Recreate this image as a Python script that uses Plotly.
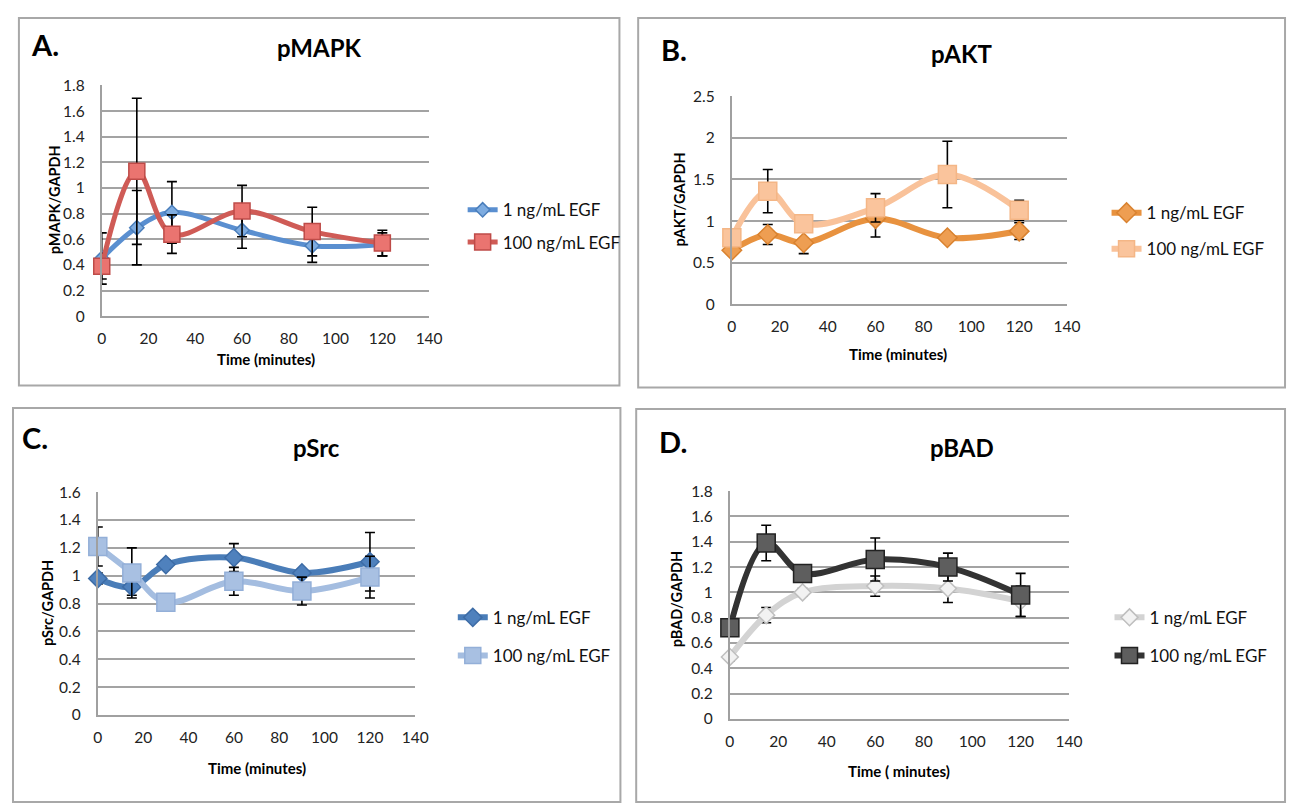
import plotly.graph_objects as go

# ---------------- data ----------------
time_min = [0, 15, 30, 60, 90, 120]
series_names = ["1 ng/mL EGF", "100 ng/mL EGF"]

mapk_1 = [0.45, 0.69, 0.81, 0.67, 0.55, 0.56]
mapk_1_err = [0.20, 0.29, 0.24, 0.14, 0.13, 0.09]
mapk_100 = [0.39, 1.13, 0.64, 0.82, 0.66, 0.57]
mapk_100_err = [0.10, 0.57, 0.15, 0.20, 0.19, 0.10]

akt_1 = [0.65, 0.84, 0.74, 1.03, 0.80, 0.88]
akt_1_err = [0.05, 0.12, 0.13, 0.22, 0.05, 0.10]
akt_100 = [0.80, 1.36, 0.97, 1.16, 1.56, 1.13]
akt_100_err = [0.05, 0.26, 0.05, 0.17, 0.40, 0.12]

src_1 = [0.98, 0.92, 1.08, 1.13, 1.02, 1.10]
src_1_err = [0.04, 0.06, 0.03, 0.10, 0.03, 0.21]
src_100 = [1.21, 1.02, 0.81, 0.96, 0.89, 0.99]
src_100_err = [0.14, 0.18, 0.03, 0.10, 0.10, 0.15]

bad_1 = [0.49, 0.82, 1.00, 1.05, 1.03, 0.93]
bad_1_err = [0.03, 0.06, 0.03, 0.08, 0.11, 0.12]
bad_100 = [0.72, 1.39, 1.15, 1.26, 1.20, 0.98]
bad_100_err = [0.03, 0.14, 0.05, 0.17, 0.11, 0.17]

panel_letters = ["A.", "B.", "C.", "D."]
panel_titles = ["pMAPK", "pAKT", "pSrc", "pBAD"]
y_titles = ["pMAPK/GAPDH", "pAKT/GAPDH", "pSrc/GAPDH", "pBAD/GAPDH"]
x_titles = ["Time (minutes)", "Time (minutes)", "Time (minutes)", "Time ( minutes)"]
y_ranges = [(0, 1.8, 0.2), (0, 2.5, 0.5), (0, 1.6, 0.2), (0, 1.8, 0.2)]
x_ticks = [0, 20, 40, 60, 80, 100, 120, 140]

# ---------------- layout geometry (screen pixels) ----------------
OFF = 8                      # default page margin around the figure
W, H = 1300 - OFF, 811 - OFF
FONT = "Lato"

def px(x):
    return max(0.0, min(1.0, (x - OFF) / W))

def py(y):
    return max(0.0, min(1.0, 1 - (y - OFF) / H))

panels = [
    dict(plot=(98, 430, 77, 313), box=(14, 623, 7, 384),
         letter=(40, 35), title=(318, 38), xt=(265, 357), yt=(50, 194),
         leg=(464, 221)),
    dict(plot=(737, 1077, 88, 301), box=(642, 1298, 6, 386),
         letter=(678, 40), title=(970, 44), xt=(906, 352), yt=(684, 194),
         leg=(1117, 226)),
    dict(plot=(94, 416, 493, 721), box=(5, 624, 407, 810),
         letter=(30, 437), title=(316, 447), xt=(255, 775), yt=(43, 607),
         leg=(454, 641)),
    dict(plot=(735, 1079, 492, 725), box=(640, 1298, 408, 810),
         letter=(677, 441), title=(970, 447), xt=(907, 778), yt=(681, 603),
         leg=(1120, 641)),
]

styles = [
    [dict(line="#5A8FD0", mfill="#7EACE0", mline="#4A7EBB", sym="diamond", size=11, lw=5),
     dict(line="#CF5B56", mfill="#EA7470", mline="#BE4B48", sym="square", size=16, lw=5)],
    [dict(line="#E8923F", mfill="#EE9E52", mline="#D9822F", sym="diamond", size=15, lw=6),
     dict(line="#F9C29A", mfill="#FAC49C", mline="#F4B686", sym="square", size=18, lw=6)],
    [dict(line="#4A7DB8", mfill="#4F81BD", mline="#3D6CA6", sym="diamond", size=14, lw=6),
     dict(line="#A4BDE0", mfill="#A8C0E2", mline="#93AFD8", sym="square", size=18, lw=6)],
    [dict(line="#D3D3D3", mfill="#F2F2F2", mline="#BFBFBF", sym="diamond", size=13, lw=6),
     dict(line="#333333", mfill="#5E5E5E", mline="#222222", sym="square", size=18, lw=6)],
]

data = [
    [(mapk_1, mapk_1_err), (mapk_100, mapk_100_err)],
    [(akt_1, akt_1_err), (akt_100, akt_100_err)],
    [(src_1, src_1_err), (src_100, src_100_err)],
    [(bad_1, bad_1_err), (bad_100, bad_100_err)],
]

leg_gaps = [7, 11, 13, 13]

fig = go.Figure()
shapes = []
annotations = []
layout_extra = {}

for i, p in enumerate(panels):
    n = "" if i == 0 else str(i + 1)
    xa, ya = "x" + n, "y" + n
    leg = "legend" + n
    for j, (vals, errs) in enumerate(data[i]):
        s = styles[i][j]
        fig.add_trace(go.Scatter(
            x=time_min, y=vals, name=series_names[j],
            mode="lines+markers", cliponaxis=False,
            line=dict(color=s["line"], width=s["lw"], shape="spline", smoothing=1),
            marker=dict(symbol=s["sym"], size=s["size"], color=s["mfill"],
                        line=dict(color=s["mline"], width=1.5)),
            error_y=dict(type="data", array=errs, visible=True, color="black",
                         thickness=1.6, width=5),
            xaxis=xa, yaxis=ya, legend=leg, legendgroup=f"p{i}s{j}",
            showlegend=True,
        ))
    x0, x1, y0, y1 = p["plot"]
    ymin, ymax, dy = y_ranges[i]
    layout_extra["xaxis" + n] = dict(
        domain=[px(x0), px(x1)], range=[0, 140], tickvals=x_ticks,
        anchor=ya, showgrid=False, zeroline=False,
        showline=True, linecolor="#A0A0A0", linewidth=2,
        ticks="outside", ticklen=7, tickcolor="rgba(0,0,0,0)",
        tickfont=dict(family=FONT, size=15.5, color="#222222"), fixedrange=True,
    )
    layout_extra["yaxis" + n] = dict(
        domain=[py(y1), py(y0)], range=[ymin, ymax], dtick=dy, tick0=0,
        anchor=xa, showgrid=True, gridcolor="#A3A3A3", gridwidth=1.6,
        zeroline=False, showline=True, linecolor="#A0A0A0", linewidth=2,
        ticks="outside", ticklen=12, tickcolor="rgba(0,0,0,0)",
        tickfont=dict(family=FONT, size=15.5, color="#222222"), fixedrange=True,
    )
    lx, ly = p["leg"]
    layout_extra[leg] = dict(
        x=px(lx), y=py(ly), xanchor="left", yanchor="middle",
        bgcolor="rgba(0,0,0,0)", borderwidth=0,
        font=dict(family=FONT, size=17, color="#111111"),
        tracegroupgap=leg_gaps[i], itemwidth=30,
    )
    bx0, bx1, by0, by1 = p["box"]
    shapes.append(dict(type="rect", xref="paper", yref="paper",
                       x0=px(bx0), x1=px(bx1), y0=py(by1), y1=py(by0),
                       line=dict(color="#A8A8A8", width=2), layer="below"))
    annotations += [
        dict(text="<b>" + panel_letters[i] + "</b>", x=px(p["letter"][0]), y=py(p["letter"][1]),
             xref="paper", yref="paper", showarrow=False, xanchor="center", yanchor="middle",
             font=dict(family=FONT, size=29, color="black")),
        dict(text="<b>" + panel_titles[i] + "</b>", x=px(p["title"][0]), y=py(p["title"][1]),
             xref="paper", yref="paper", showarrow=False, xanchor="center", yanchor="middle",
             font=dict(family=FONT, size=24, color="black")),
        dict(text="<b>" + x_titles[i] + "</b>", x=px(p["xt"][0]), y=py(p["xt"][1]),
             xref="paper", yref="paper", showarrow=False, xanchor="center", yanchor="middle",
             font=dict(family=FONT, size=15, color="black")),
        dict(text="<b>" + y_titles[i] + "</b>", x=px(p["yt"][0]), y=py(p["yt"][1]),
             xref="paper", yref="paper", showarrow=False, xanchor="center", yanchor="middle",
             textangle=-90, font=dict(family=FONT, size=14.5, color="black")),
    ]

fig.update_layout(
    width=W, height=H, margin=dict(l=0, r=0, t=0, b=0, pad=0),
    paper_bgcolor="white", plot_bgcolor="white",
    shapes=shapes, annotations=annotations, **layout_extra,
)

fig.write_html("out.html")
